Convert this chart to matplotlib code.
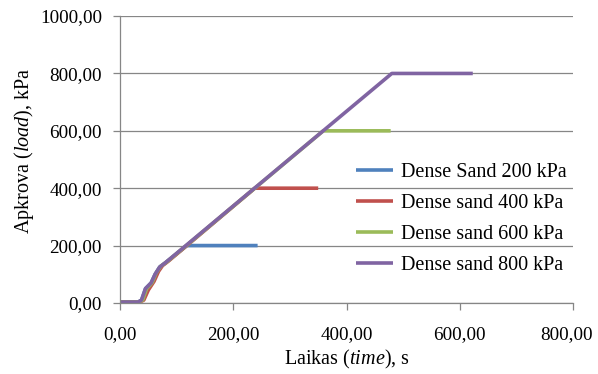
import matplotlib.pyplot as plt
from matplotlib.ticker import FuncFormatter
from matplotlib.transforms import ScaledTranslation

plt.rcParams['font.family'] = ['Liberation Serif', 'DejaVu Serif']
plt.rcParams['mathtext.fontset'] = 'custom'
plt.rcParams['mathtext.rm'] = 'Liberation Serif'
plt.rcParams['mathtext.it'] = 'Liberation Serif:italic'

# laikas (s) ir apkrova (kPa) kiekvienai serijai
t_200 = [0, 32, 38, 45, 50, 55, 62, 70, 80, 118, 243]
p_200 = [3, 3, 10, 50, 60, 70, 100, 125, 140, 200, 200]

t_400 = [0, 35, 42, 50, 55, 60, 68, 75, 85, 238, 350]
p_400 = [3, 3, 10, 45, 60, 75, 110, 130, 145, 400, 400]

t_600 = [0, 33, 40, 47, 52, 57, 64, 72, 82, 359, 478]
p_600 = [3, 3, 10, 50, 60, 72, 105, 128, 142, 600, 600]

t_800 = [0, 32, 38, 45, 50, 55, 62, 70, 80, 480, 623]
p_800 = [3, 3, 10, 50, 60, 70, 100, 125, 140, 800, 800]

labels = ['Dense Sand 200 kPa', 'Dense sand 400 kPa', 'Dense sand 600 kPa', 'Dense sand 800 kPa']
colors = ['#4F81BD', '#C0504D', '#9BBB59', '#8064A2']

fig = plt.figure(figsize=(5.98, 3.74), dpi=100)
ax = fig.add_axes([0.2007, 0.19, 0.7575, 0.767])

series = [(t_200, p_200), (t_400, p_400), (t_600, p_600), (t_800, p_800)]
for (t, p), lab, c in zip(series, labels, colors):
    ax.plot(t, p, color=c, lw=2.6, label=lab, solid_capstyle='butt')

ax.set_xlim(0, 800)
ax.set_ylim(0, 1000)
ax.set_xticks([0, 200, 400, 600, 800])
ax.set_yticks([0, 200, 400, 600, 800, 1000])
fmt = FuncFormatter(lambda v, pos: '{:.2f}'.format(v).replace('.', ','))
ax.xaxis.set_major_formatter(fmt)
ax.yaxis.set_major_formatter(fmt)

ax.grid(axis='y', color='#868686', lw=0.9)
ax.set_axisbelow(True)
for s in ['top', 'right']:
    ax.spines[s].set_visible(False)
for s in ['left', 'bottom']:
    ax.spines[s].set_color('#868686')
    ax.spines[s].set_linewidth(0.9)
ax.tick_params(direction='out', length=5, width=0.9, color='#868686', labelsize=13.8)
ax.tick_params(axis='x', pad=12)
ax.tick_params(axis='y', pad=8)

# paskutine x zyme paslinkta i kaire, kad tilptu
fig.canvas.draw()
last = ax.get_xticklabels()[-1]
last.set_transform(last.get_transform() + ScaledTranslation(-0.07, 0, fig.dpi_scale_trans))

ax.set_xlabel('Laikas ($\\it{time}$), s', fontsize=14.5, labelpad=3)
ax.set_ylabel('Apkrova ($\\it{load}$), kPa', fontsize=14.5)
ax.yaxis.set_label_coords(-0.185, 0.53)

leg = ax.legend(loc='upper left', bbox_to_anchor=(0.48, 0.55), frameon=False,
                fontsize=14.5, handlelength=1.85, labelspacing=0.58, handletextpad=0.4)

fig.savefig('out.png', dpi=100)
